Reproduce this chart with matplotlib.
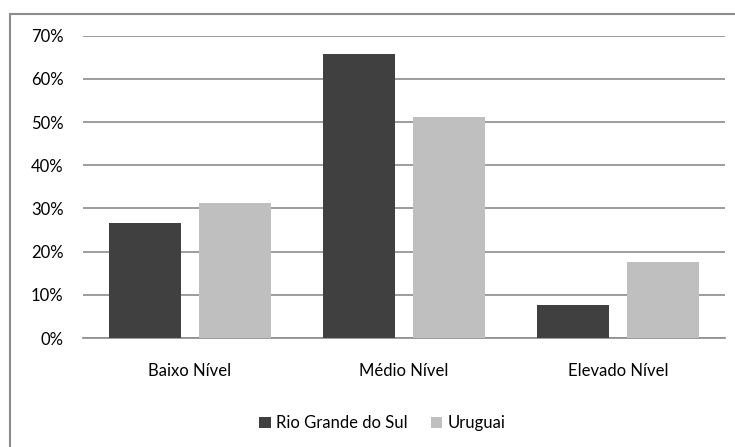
import numpy as np
import matplotlib.pyplot as plt
from matplotlib.patches import Rectangle
from matplotlib.ticker import PercentFormatter

# Share of each level per region (%)
niveis = ["Baixo Nível", "Médio Nível", "Elevado Nível"]
rio_grande = [26.7, 65.7, 7.6]
uruguai = [31.2, 51.1, 17.5]
series = ["Rio Grande do Sul", "Uruguai"]
cores = ["#404040", "#bfbfbf"]

plt.rcParams["font.family"] = ["Lato", "DejaVu Sans"]
tam = 12

fig = plt.figure(figsize=(7.35, 4.47), dpi=100)
ax = fig.add_axes([0.1129, 0.2438, 0.8735, 0.6763])

x = np.arange(len(niveis))
largura = 0.336
desloc = 0.21
ax.bar(x - desloc, rio_grande, largura, color=cores[0], label=series[0], zorder=3)
ax.bar(x + desloc, uruguai, largura, color=cores[1], label=series[1], zorder=3)

ax.set_xlim(-0.5, 2.5)
ax.set_ylim(0, 70)
ax.set_yticks(np.arange(0, 71, 10))
ax.yaxis.set_major_formatter(PercentFormatter(decimals=0))
ax.set_xticks(x)
ax.set_xticklabels(niveis)

ax.grid(axis="y", color="#8c8c8c", linewidth=1.2, zorder=0)
for lado in ["top", "right", "left"]:
    ax.spines[lado].set_visible(False)
ax.spines["bottom"].set_color("#8c8c8c")
ax.spines["bottom"].set_linewidth(1.2)
ax.tick_params(axis="y", length=0, pad=14, labelsize=tam)
ax.tick_params(axis="x", length=0, pad=18, labelsize=tam)

fig.legend(loc="center", bbox_to_anchor=(0.52, 0.053), ncol=2, frameon=False,
           fontsize=tam, handlelength=0.7, handleheight=0.7,
           handletextpad=0.3, columnspacing=1.4)

# outer chart frame (only top and left edges are inside the image)
fig.patches.append(Rectangle((10 / 735, -0.2), 1.2, 1.2 - 14 / 447,
                             transform=fig.transFigure, fill=False,
                             edgecolor="#8c8c8c", linewidth=1.5))

fig.savefig("out.png", dpi=100)
